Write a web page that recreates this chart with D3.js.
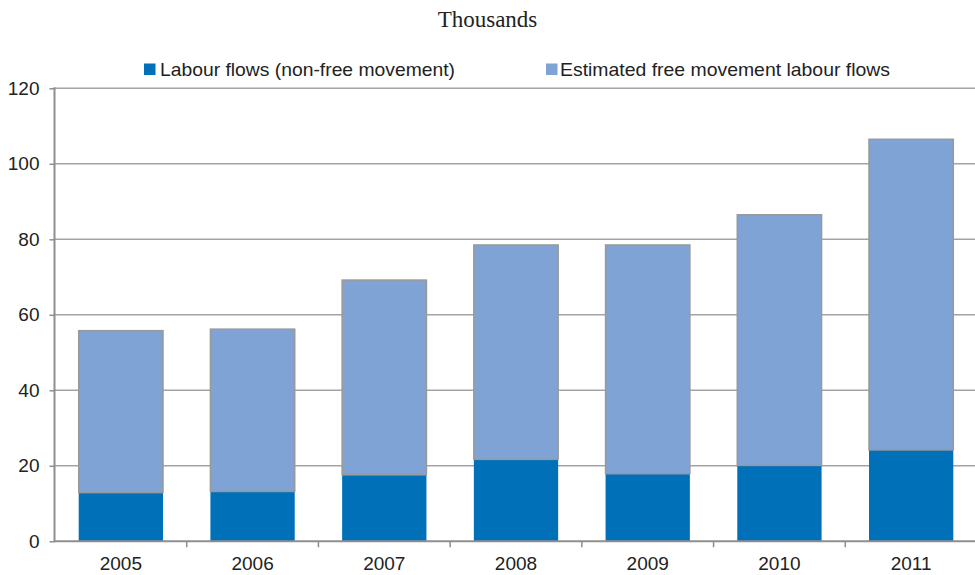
<!DOCTYPE html>
<html>
<head>
<meta charset="utf-8">
<script src="https://cdn.jsdelivr.net/npm/d3@7"></script>
<style>
  html, body { margin: 0; padding: 0; background: #fff; }
  svg { display: block; }
</style>
</head>
<body>
<svg id="chart" width="975" height="575"></svg>
<script>
// Labour flows, thousands
const years = ["2005", "2006", "2007", "2008", "2009", "2010", "2011"];
const nonFree = [12.9, 13.2, 17.6, 21.7, 17.9, 20.1, 24.2];
const freeMovement = [42.9, 43.0, 51.6, 56.8, 60.6, 66.4, 82.3];
const yTicks = [0, 20, 40, 60, 80, 100, 120];
const seriesNames = ["Labour flows (non-free movement)", "Estimated free movement labour flows"];
const seriesColors = ["#0070b8", "#7fa3d5"];

const svg = d3.select("#chart");
const plotLeft = 55, plotRight = 977, plotTop = 88.3, plotBottom = 541.3;

const x = d3.scaleBand().domain(years).range([plotLeft, plotRight]).paddingInner(0.36).paddingOuter(0.18);
const y = d3.scaleLinear().domain([0, 120]).range([plotBottom, plotTop]);

const rows = years.map((yr, i) => ({ year: yr, nonFree: nonFree[i], free: freeMovement[i] }));
const stacked = d3.stack().keys(["nonFree", "free"])(rows);

// title
svg.append("text")
  .attr("x", 487.5).attr("y", 26.5)
  .attr("text-anchor", "middle")
  .attr("font-family", "'Liberation Serif', 'Times New Roman', serif")
  .attr("font-size", 23)
  .attr("fill", "#222")
  .text("Thousands");

// gridlines
svg.append("g")
  .selectAll("line")
  .data(yTicks.filter(d => d > 0))
  .join("line")
  .attr("x1", plotLeft).attr("x2", 975)
  .attr("y1", d => y(d)).attr("y2", d => y(d))
  .attr("stroke", "#a3a3a3")
  .attr("stroke-width", 1.5);

// stacked bars
const layerG = svg.append("g");
stacked.forEach((layer, li) => {
  layerG.append("g")
    .selectAll("rect")
    .data(layer)
    .join("rect")
    .attr("x", d => x(d.data.year))
    .attr("width", x.bandwidth())
    .attr("y", d => y(d[1]))
    .attr("height", d => y(d[0]) - y(d[1]))
    .attr("fill", seriesColors[li])
    .attr("stroke", li === 1 ? "#999" : "none")
    .attr("stroke-width", 1.5);
});

// y axis
const yAxis = d3.axisLeft(y).tickValues(yTicks).tickSize(5).tickPadding(10);
const yg = svg.append("g").attr("transform", `translate(${plotLeft - 0.5},0)`).call(yAxis);
yg.select(".domain").attr("stroke", "#8e8e8e").attr("stroke-width", 2).attr("d", `M0,${plotTop - 1}V${plotBottom}`);
yg.selectAll(".tick line").attr("stroke", "#8e8e8e").attr("stroke-width", 1.5);
yg.selectAll(".tick text")
  .attr("font-family", "'Liberation Sans', Arial, sans-serif")
  .attr("font-size", 19)
  .attr("fill", "#222");

// x axis
const xAxis = d3.axisBottom(x).tickSize(0).tickPadding(15);
const xg = svg.append("g").attr("transform", `translate(0,${plotBottom})`).call(xAxis);
xg.select(".domain").attr("stroke", "#8e8e8e").attr("stroke-width", 2).attr("d", `M${plotLeft - 1},0H975`);
xg.selectAll(".tick text")
  .attr("font-family", "'Liberation Sans', Arial, sans-serif")
  .attr("font-size", 19)
  .attr("fill", "#222");

// category separator ticks
const step = x.step();
const boundaries = d3.range(1, years.length + 1).map(i => plotLeft + i * step);
xg.append("g").selectAll("line")
  .data(boundaries.filter(b => b < 975))
  .join("line")
  .attr("x1", d => d).attr("x2", d => d)
  .attr("y1", 0).attr("y2", 6)
  .attr("stroke", "#8e8e8e").attr("stroke-width", 1.5);

// legend
const legendItems = [
  { name: seriesNames[0], color: seriesColors[0], sx: 144, tx: 160, w: 295 },
  { name: seriesNames[1], color: seriesColors[1], sx: 546, tx: 560, w: 330 }
];
const lg = svg.append("g");
legendItems.forEach(it => {
  lg.append("rect")
    .attr("x", it.sx).attr("y", 63.5).attr("width", 11.5).attr("height", 11.5)
    .attr("fill", it.color);
  lg.append("text")
    .attr("x", it.tx).attr("y", 76)
    .attr("font-family", "'Liberation Sans', Arial, sans-serif")
    .attr("font-size", 18.5)
    .attr("fill", "#222")
    .attr("textLength", it.w)
    .attr("lengthAdjust", "spacingAndGlyphs")
    .text(it.name);
});
</script>
</body>
</html>
